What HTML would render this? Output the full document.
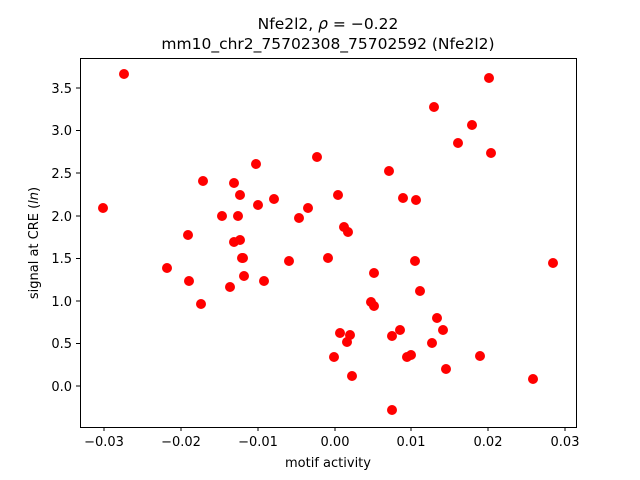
<!DOCTYPE html>
<html><head><meta charset="utf-8"><style>body{margin:0;background:#fff}svg{display:block}</style></head><body>
<svg width="640" height="480" xmlns="http://www.w3.org/2000/svg" font-family="'DejaVu Sans','Liberation Sans',sans-serif">
<rect width="640" height="480" fill="#fff"/>
<g fill="#ff0000">
<circle cx="103" cy="208" r="5"/><circle cx="124" cy="74" r="5"/><circle cx="167" cy="268" r="5"/><circle cx="188" cy="235" r="5"/><circle cx="189" cy="281" r="5"/><circle cx="201" cy="304" r="5"/><circle cx="203" cy="181" r="5"/><circle cx="222" cy="216" r="5"/><circle cx="230" cy="287" r="5"/><circle cx="234" cy="183" r="5"/><circle cx="234" cy="242" r="5"/><circle cx="238" cy="216" r="5"/><circle cx="240" cy="195" r="5"/><circle cx="240" cy="240" r="5"/><circle cx="242" cy="258" r="5"/><circle cx="243" cy="258" r="5"/><circle cx="244" cy="276" r="5"/><circle cx="256" cy="164" r="5"/><circle cx="258" cy="205" r="5"/><circle cx="264" cy="281" r="5"/><circle cx="274" cy="199" r="5"/><circle cx="289" cy="261" r="5"/><circle cx="299" cy="218" r="5"/><circle cx="308" cy="208" r="5"/><circle cx="317" cy="157" r="5"/><circle cx="328" cy="258" r="5"/><circle cx="334" cy="357" r="5"/><circle cx="338" cy="195" r="5"/><circle cx="340" cy="333" r="5"/><circle cx="344" cy="227" r="5"/><circle cx="348" cy="232" r="5"/><circle cx="347" cy="342" r="5"/><circle cx="350" cy="335" r="5"/><circle cx="352" cy="376" r="5"/><circle cx="371" cy="302" r="5"/><circle cx="374" cy="273" r="5"/><circle cx="374" cy="306" r="5"/><circle cx="389" cy="171" r="5"/><circle cx="392" cy="410" r="5"/><circle cx="392" cy="336" r="5"/><circle cx="400" cy="330" r="5"/><circle cx="403" cy="198" r="5"/><circle cx="407" cy="357" r="5"/><circle cx="411" cy="355" r="5"/><circle cx="415" cy="261" r="5"/><circle cx="416" cy="200" r="5"/><circle cx="420" cy="291" r="5"/><circle cx="432" cy="343" r="5"/><circle cx="434" cy="107" r="5"/><circle cx="437" cy="318" r="5"/><circle cx="443" cy="330" r="5"/><circle cx="446" cy="369" r="5"/><circle cx="472" cy="125" r="5"/><circle cx="458" cy="143" r="5"/><circle cx="480" cy="356" r="5"/><circle cx="489" cy="78" r="5"/><circle cx="491" cy="153" r="5"/><circle cx="533" cy="379" r="5"/><circle cx="553" cy="263" r="5"/>
</g>
<rect x="80.5" y="58.5" width="496" height="369" fill="none" stroke="#000" stroke-width="1"/>
<g stroke="#000" stroke-width="1">
<line x1="104" y1="427" x2="104" y2="431"/><line x1="181" y1="427" x2="181" y2="431"/><line x1="258" y1="427" x2="258" y2="431"/><line x1="335" y1="427" x2="335" y2="431"/><line x1="411" y1="427" x2="411" y2="431"/><line x1="488" y1="427" x2="488" y2="431"/><line x1="565" y1="427" x2="565" y2="431"/>
<line x1="76" y1="386" x2="80" y2="386"/><line x1="76" y1="343.5" x2="80" y2="343.5"/><line x1="76" y1="301" x2="80" y2="301"/><line x1="76" y1="258.5" x2="80" y2="258.5"/><line x1="76" y1="216" x2="80" y2="216"/><line x1="76" y1="173" x2="80" y2="173"/><line x1="76" y1="130.5" x2="80" y2="130.5"/><line x1="76" y1="88" x2="80" y2="88"/>
</g>
<g font-size="13" text-anchor="middle" fill="#000">
<text x="104" y="446">−0.03</text><text x="181" y="446">−0.02</text><text x="258" y="446">−0.01</text><text x="335" y="446">0.00</text><text x="411" y="446">0.01</text><text x="488" y="446">0.02</text><text x="565" y="446">0.03</text>
<text x="328" y="467">motif activity</text>
</g>
<g font-size="13" text-anchor="end" fill="#000">
<text x="72" y="391">0.0</text><text x="72" y="348">0.5</text><text x="72" y="306">1.0</text><text x="72" y="263">1.5</text><text x="72" y="221">2.0</text><text x="72" y="178">2.5</text><text x="72" y="135">3.0</text><text x="72" y="93">3.5</text>
</g>
<text transform="translate(38,243) rotate(-90)" font-size="13" text-anchor="middle">signal at CRE (<tspan font-style="italic">ln</tspan>)</text>
<g font-size="15.5" text-anchor="middle">
<text x="328" y="29">Nfe2l2, <tspan font-style="italic">ρ</tspan> = −0.22</text>
<text x="328" y="49">mm10_chr2_75702308_75702592 (Nfe2l2)</text>
</g>
</svg>
</body></html>
